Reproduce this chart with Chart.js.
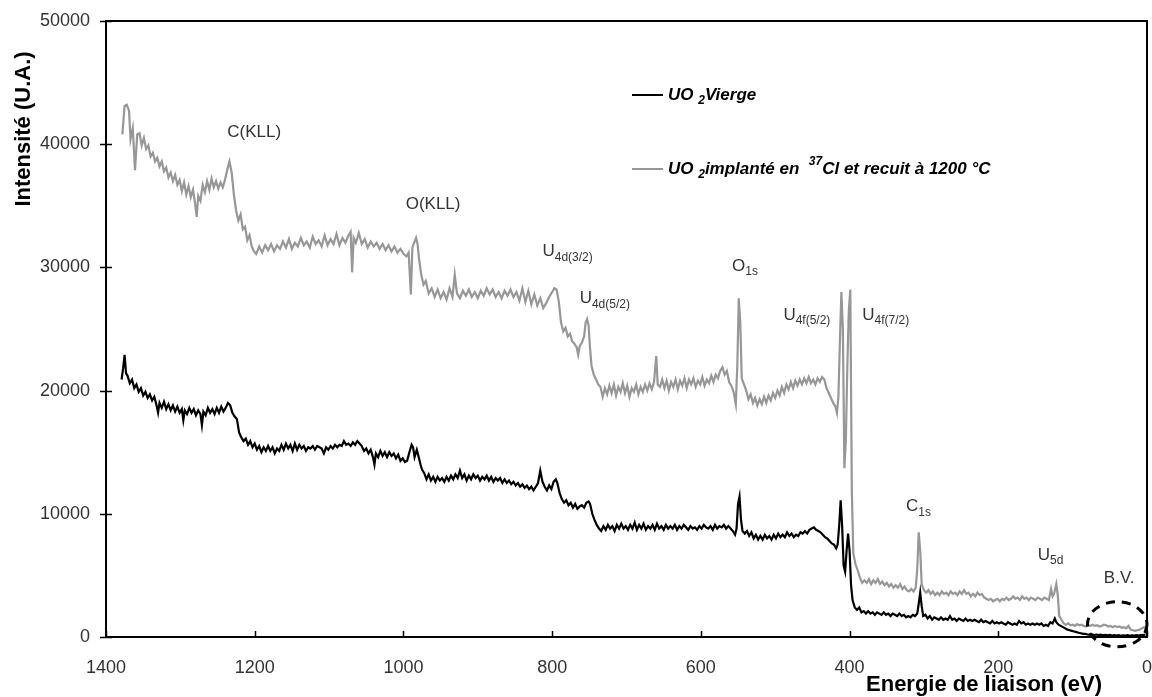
<!DOCTYPE html>
<html>
<head>
<meta charset="utf-8">
<script src="https://cdn.jsdelivr.net/npm/chart.js@4.4.1/dist/chart.umd.min.js"></script>
<style>
  html, body { margin: 0; padding: 0; background: #fff; }
  canvas { display: block; }
</style>
</head>
<body>
<canvas id="xps" width="1152" height="697"></canvas>
<script>
// Survey spectra, [energie (eV), intensite (U.A.)]
const vierge = [
  [1379,20900],[1377,21800],[1375,22900],[1373,21400],[1371,21200],[1368,20600],[1365,20900],[1362,20200],
  [1359,20500],[1356,19900],[1353,20200],[1350,19600],[1347,19900],[1344,19400],[1341,19700],[1338,19200],
  [1335,19500],[1332,18800],[1330,18200],[1328,19000],[1325,18600],[1322,19100],[1319,18500],[1316,18900],
  [1313,18400],[1310,18800],[1307,18300],[1304,18700],[1301,18200],[1298,18500],[1296,17600],[1294,18400],
  [1291,18100],[1288,18600],[1285,18200],[1282,18500],[1279,18000],[1276,18400],[1273,18100],[1271,17200],
  [1269,18300],[1266,18000],[1263,18600],[1260,18200],[1257,18500],[1254,18100],[1251,18600],[1248,18200],
  [1245,18700],[1242,18300],[1239,18600],[1236,19000],[1233,18800],[1230,18200],[1227,17900],[1224,17700],
  [1221,16600],[1218,16200],[1215,15900],[1212,16100],[1209,15600],[1206,15900],[1203,15400],[1200,15700],
  [1197,15200],[1194,15500],[1191,15000],[1188,15400],[1185,15100],[1182,15500],[1179,15100],[1176,15400],
  [1173,14900],[1170,15300],[1167,15100],[1164,15600],[1161,15200],[1158,15700],[1155,15300],[1152,15600],
  [1149,15100],[1146,15700],[1143,15200],[1140,15600],[1137,15300],[1134,15500],[1131,15100],[1128,15400],
  [1125,15300],[1122,15500],[1119,15200],[1116,15500],[1113,15400],[1110,15300],[1107,14900],[1104,15400],
  [1101,15200],[1098,15500],[1095,15300],[1092,15600],[1089,15400],[1086,15600],[1083,15500],[1080,15900],
  [1077,15600],[1074,15700],[1071,15500],[1068,15800],[1065,15600],[1062,15900],[1059,15700],[1056,15500],
  [1053,15100],[1050,15300],[1047,14900],[1044,15200],[1041,14600],[1039,14000],[1037,14900],[1034,14600],
  [1031,15100],[1028,14700],[1025,15000],[1022,14600],[1019,15000],[1016,14700],[1013,14900],[1010,14500],
  [1007,14800],[1004,14300],[1001,14500],[998,14200],[995,14300],[992,15000],[989,15600],[987,15400],
  [985,14600],[982,15200],[979,14500],[977,14000],[975,13600],[972,13300],[969,12800],[966,13200],
  [963,12700],[960,13000],[957,12600],[954,13000],[951,12700],[948,12900],[945,12600],[942,13000],
  [939,12700],[936,13100],[933,12800],[930,13200],[927,12900],[924,13500],[921,12900],[918,13200],
  [915,12700],[912,13100],[909,12800],[906,13200],[903,12900],[900,13100],[897,12700],[894,13000],
  [891,12800],[888,13100],[885,12700],[882,13000],[879,12600],[876,12900],[873,12700],[870,12900],
  [867,12500],[864,12800],[861,12500],[858,12700],[855,12400],[852,12600],[849,12300],[846,12500],
  [843,12200],[840,12400],[837,12100],[834,12300],[831,12000],[828,12200],[825,11900],[822,12200],
  [819,12500],[816,13500],[813,12600],[810,12200],[807,11900],[804,12300],[801,12000],[798,12600],
  [795,12800],[793,12500],[790,11700],[787,11200],[784,10900],[781,11100],[778,10700],[775,10900],
  [772,10500],[769,10800],[766,10400],[763,10600],[760,10700],[757,10500],[754,10900],[751,11000],
  [749,10800],[746,10000],[743,9500],[740,9100],[737,8800],[734,8600],[731,9000],[728,8700],
  [725,9100],[722,8800],[719,9000],[716,8600],[713,9100],[710,8800],[707,9200],[704,8800],
  [701,9000],[698,8700],[695,9100],[692,8800],[689,9300],[686,8700],[683,9100],[680,8800],
  [677,9200],[674,8700],[671,9000],[668,8800],[665,9100],[662,8700],[659,9200],[656,8800],
  [653,9000],[650,8700],[647,9100],[644,8800],[641,9000],[638,8800],[635,9100],[632,8700],
  [629,9000],[626,8800],[623,9100],[620,8900],[617,8700],[614,9000],[611,8800],[608,8900],
  [605,8700],[602,9000],[599,8800],[596,9100],[593,8900],[590,8800],[587,9000],[584,8700],
  [581,9100],[578,8800],[575,9000],[572,8900],[569,9100],[566,8800],[563,9000],[560,8800],
  [557,8600],[554,8300],[552,8800],[550,10800],[548,11400],[546,9500],[544,8600],[541,8400],
  [538,8600],[535,8200],[532,8500],[529,8000],[526,8300],[523,7900],[520,8200],[517,7900],
  [514,8300],[511,8000],[508,8200],[505,7900],[502,8300],[499,8000],[496,8400],[493,8100],
  [490,8300],[487,8100],[484,8500],[481,8200],[478,8400],[475,8100],[472,8300],[469,8200],
  [466,8500],[463,8400],[460,8600],[457,8400],[454,8700],[451,8800],[448,8900],[445,8700],
  [442,8600],[439,8500],[436,8300],[433,8100],[430,8000],[427,7800],[424,7600],[421,7500],
  [418,7200],[416,7500],[414,9000],[412,11100],[410,9000],[408,5800],[406,5300],[404,7000],
  [402,8400],[400,7000],[398,4200],[396,3000],[393,2400],[390,2200],[387,2400],[384,2000],
  [381,2100],[378,1900],[375,2100],[372,1900],[369,2000],[366,1800],[363,2000],[360,1900],
  [357,1800],[354,2000],[351,1800],[348,1900],[345,1700],[342,1900],[339,1800],[336,1700],
  [333,1900],[330,1700],[327,1800],[324,1600],[321,1700],[318,1600],[315,1800],[312,1700],
  [309,1900],[307,2700],[305,3600],[303,2500],[301,1700],[298,1800],[295,1500],[292,1700],
  [289,1400],[286,1600],[283,1500],[280,1400],[277,1600],[274,1400],[271,1500],[268,1400],
  [265,1700],[262,1400],[259,1500],[256,1300],[253,1500],[250,1400],[247,1300],[244,1500],
  [241,1300],[238,1400],[235,1300],[232,1400],[229,1300],[226,1200],[223,1400],[220,1200],
  [217,1300],[214,1200],[211,1100],[208,1300],[205,1100],[202,1200],[199,1100],[196,1200],
  [193,1100],[190,1000],[187,1200],[184,1100],[181,1000],[178,1100],[175,1000],[172,1300],
  [169,1100],[166,1200],[163,1000],[160,1100],[157,1000],[154,1100],[151,1000],[148,1100],
  [145,1000],[142,1100],[139,900],[136,1000],[133,900],[130,1200],[127,1100],[124,1500],
  [122,1200],[119,1000],[116,900],[113,800],[110,700],[107,600],[104,550],[101,500],
  [98,450],[95,400],[92,350],[89,300],[86,250],[83,250],[80,200],[77,180],
  [74,220],[71,160],[68,200],[65,150],[62,190],[59,140],[56,180],[53,130],
  [50,170],[47,120],[44,160],[41,110],[38,150],[35,100],[32,140],[29,110],
  [26,150],[23,100],[20,140],[17,110],[14,160],[11,120],[8,180],[5,150],[2,200]
];

const implante = [
  [1378,40800],[1375,43100],[1372,43200],[1369,42700],[1367,40400],[1364,41300],[1361,37900],[1358,40800],
  [1355,40900],[1352,39900],[1349,40500],[1346,39600],[1343,39900],[1340,39000],[1337,39300],[1334,38600],
  [1331,38900],[1328,38200],[1325,38600],[1322,37800],[1319,38100],[1316,37300],[1313,37700],[1310,37000],
  [1307,37500],[1304,36700],[1301,37100],[1298,36200],[1295,36900],[1292,35900],[1289,36600],[1286,35700],
  [1283,36300],[1280,35100],[1278,34100],[1276,35800],[1273,35400],[1270,36700],[1267,36100],[1264,37000],
  [1261,36300],[1258,37200],[1255,36500],[1252,37000],[1249,36400],[1246,36900],[1243,36500],[1240,37100],
  [1237,37900],[1234,38600],[1231,37700],[1228,35900],[1225,34600],[1222,33800],[1219,34300],[1216,33100],
  [1213,33300],[1210,32200],[1207,32600],[1204,31700],[1201,31300],[1198,31100],[1194,31700],[1190,31200],
  [1186,31800],[1182,31400],[1178,31900],[1174,31300],[1170,31800],[1166,31500],[1162,32100],[1158,31600],
  [1154,32300],[1150,31500],[1146,32000],[1142,31700],[1138,32400],[1134,31800],[1130,32100],[1126,31600],
  [1122,32500],[1118,31900],[1114,32200],[1110,31700],[1106,32600],[1102,31800],[1098,32300],[1094,31900],
  [1090,32700],[1086,31800],[1082,32400],[1078,32000],[1074,32600],[1071,32900],[1069,29600],[1067,32400],
  [1064,32000],[1060,32800],[1056,31900],[1052,32300],[1048,31600],[1044,32100],[1040,31700],[1036,32000],
  [1032,31500],[1028,31900],[1024,31400],[1020,31800],[1016,31300],[1012,31700],[1008,31200],[1004,31500],
  [1000,31100],[996,30900],[993,31200],[990,27800],[988,31600],[985,32100],[983,32400],[981,31900],
  [979,30700],[976,29400],[973,28600],[970,28900],[966,27900],[962,28300],[958,27600],[954,28200],
  [950,27500],[946,28000],[942,27400],[938,28300],[934,27600],[931,29400],[928,27900],[924,27500],
  [920,28100],[916,27700],[912,28200],[908,27600],[904,28000],[900,27500],[896,28100],[892,27700],
  [888,28300],[884,27800],[880,28200],[876,27600],[872,28000],[868,27500],[864,28100],[860,27700],
  [856,28200],[852,27600],[848,28000],[844,27300],[840,28300],[836,27200],[832,28100],[828,27000],
  [824,27800],[820,26900],[816,27500],[812,26700],[808,27100],[804,27600],[800,28000],[797,28300],
  [794,28200],[791,27200],[788,25500],[785,24800],[782,25100],[779,24400],[776,24600],[773,24000],
  [770,23800],[767,23500],[765,22900],[763,23600],[760,23900],[757,24400],[755,25500],[753,25800],
  [751,25300],[749,23400],[747,22000],[744,21300],[741,20900],[738,20500],[735,20300],[732,19500],
  [729,20200],[726,19700],[723,20400],[720,19800],[717,20500],[714,19600],[711,20300],[708,19900],
  [705,20600],[702,19800],[699,20400],[696,19500],[693,20200],[690,19900],[687,20500],[684,19700],
  [681,20300],[678,19900],[675,20500],[672,20000],[669,20600],[666,20100],[663,20700],[660,22800],
  [658,20500],[655,20300],[652,20900],[649,20200],[646,20800],[643,20000],[640,20700],[637,20300],
  [634,20900],[631,20100],[628,20800],[625,20400],[622,21000],[619,20200],[616,20900],[613,20500],
  [610,21000],[607,20300],[604,20800],[601,20500],[598,21100],[595,20400],[592,20900],[589,20600],
  [586,21200],[583,20700],[580,21300],[577,21000],[574,21600],[571,21900],[568,21300],[565,21600],
  [562,20700],[559,20400],[556,19900],[553,18900],[551,22000],[549,27500],[547,25500],[545,21000],
  [542,20500],[539,20000],[536,19300],[533,19700],[530,19000],[527,19400],[524,18800],[521,19300],
  [518,18900],[515,19500],[512,19000],[509,19600],[506,19200],[503,19800],[500,19400],[497,20000],
  [494,19600],[491,20300],[488,19800],[485,20500],[482,20100],[479,20700],[476,20200],[473,20800],
  [470,20400],[467,20900],[464,20500],[461,21000],[458,20600],[455,21100],[452,20600],[449,20900],
  [446,20500],[443,21000],[440,20700],[437,21100],[434,20900],[431,20200],[428,19800],[425,19400],
  [422,19000],[419,18700],[417,18200],[415,19500],[413,24000],[411,28000],[409,25000],[407,13700],
  [405,16000],[403,22000],[401,26500],[399,28200],[397,12000],[395,6800],[392,5900],[389,5400],
  [386,4800],[383,4400],[380,4600],[377,4400],[374,4700],[371,4300],[368,4600],[365,4400],
  [362,4700],[359,4300],[356,4500],[353,4200],[350,4400],[347,4100],[344,4300],[341,4000],
  [338,4200],[335,4000],[332,4300],[329,3900],[326,4100],[323,3800],[320,3700],[317,3900],
  [314,3700],[311,4000],[309,5500],[307,8500],[305,7000],[303,4300],[300,3800],[297,3600],
  [294,3800],[291,3500],[288,3700],[285,3400],[282,3600],[279,3400],[276,3700],[273,3500],
  [270,3600],[267,3400],[264,3700],[261,3500],[258,3600],[255,3400],[252,3700],[249,3500],
  [246,3800],[243,3500],[240,3600],[237,3300],[234,3500],[231,3300],[228,3600],[225,3400],
  [222,3500],[219,3200],[216,3100],[213,3000],[210,3100],[207,2900],[204,3000],[201,3100],
  [198,2900],[195,3100],[192,3000],[189,3200],[186,3000],[183,3100],[180,3300],[177,3100],
  [174,3200],[171,3000],[168,3300],[165,3100],[162,3200],[159,3000],[156,3200],[153,3100],
  [150,3000],[147,3200],[144,3100],[141,3000],[138,3200],[135,3100],[132,3000],[129,3900],
  [127,3300],[125,3500],[122,4300],[120,3400],[118,1700],[115,1400],[112,1100],[109,1000],
  [106,1100],[103,950],[100,1000],[97,900],[94,1050],[91,950],[88,1000],[85,900],
  [82,850],[79,950],[76,900],[73,1000],[70,900],[67,950],[64,850],[61,900],
  [58,1000],[55,950],[52,850],[49,900],[46,800],[43,900],[40,800],[37,850],
  [34,750],[31,800],[28,700],[25,900],[22,600],[19,550],[16,500],[13,550],
  [10,600],[7,700],[4,800],[1,600]
];

const energyTicks = [1400, 1200, 1000, 800, 600, 400, 200, 0];
const intensityTicks = [0, 10000, 20000, 30000, 40000, 50000];

// peak names: text, subscript, anchor (eV, U.A.) of the left/middle of the text
const peakLabels = [
  ['C(KLL)', '', 1237, 41000],
  ['O(KLL)', '', 997, 35100],
  ['U', '4d(3/2)', 813, 31300],
  ['U', '4d(5/2)', 763, 27500],
  ['O', '1s', 558, 30100],
  ['U', '4f(5/2)', 489, 26150],
  ['U', '4f(7/2)', 383, 26150],
  ['C', '1s', 324, 10600],
  ['U', '5d', 147, 6650],
  ['B.V.', '', 58, 4750]
];

// valence band marker: centre (eV, U.A.) and half axes (eV, U.A.)
const bvCircle = [40, 1030, 40, 1830];

const FONT = '"Liberation Sans", Arial, sans-serif';

function drawRich(ctx, parts, x, y) {
  // parts: [text, px size, baseline shift, weight/style]
  let cx = x;
  for (const [t, size, dy, style] of parts) {
    ctx.font = `${style || ''} ${size}px ${FONT}`;
    ctx.fillText(t, cx, y + dy);
    cx += ctx.measureText(t).width;
  }
}

const decor = {
  id: 'decor',
  afterDraw(chart) {
    const { ctx, chartArea: a, scales: { x, y } } = chart;
    ctx.save();

    // box and tick marks
    ctx.strokeStyle = '#000';
    ctx.lineWidth = 2;
    ctx.strokeRect(a.left, a.top, a.right - a.left, a.bottom - a.top);
    ctx.beginPath();
    for (const v of intensityTicks) {
      const py = Math.round(y.getPixelForValue(v)) + 0.5;
      ctx.moveTo(a.left - 6, py);
      ctx.lineTo(a.left + 6, py);
    }
    for (const v of energyTicks) {
      const px = Math.round(x.getPixelForValue(v)) + 0.5;
      ctx.moveTo(px, a.bottom);
      ctx.lineTo(px, a.bottom - 6);
    }
    ctx.lineWidth = 1.5;
    ctx.stroke();

    // dashed ellipse round the valence band
    const [ce, ci, re, ri] = bvCircle;
    const cx = x.getPixelForValue(ce), cy = y.getPixelForValue(ci);
    const rx = Math.abs(x.getPixelForValue(ce + re) - cx);
    const ry = Math.abs(y.getPixelForValue(ci + ri) - cy);
    ctx.beginPath();
    ctx.ellipse(cx, cy, rx, ry, 0, 0, Math.PI * 2);
    ctx.setLineDash([9, 7]);
    ctx.lineWidth = 3;
    ctx.stroke();
    ctx.setLineDash([]);

    // peak names
    ctx.fillStyle = '#333';
    ctx.textBaseline = 'middle';
    ctx.textAlign = 'left';
    for (const [main, sub, e, i] of peakLabels) {
      const px = x.getPixelForValue(e), py = y.getPixelForValue(i);
      const parts = [[main, 17, 0, '']];
      if (sub) parts.push([sub, 12, 6, '']);
      drawRich(ctx, parts, px, py);
    }

    // legend
    const lx = a.left + 526, ly1 = a.top + 74, ly2 = a.top + 148;
    ctx.lineWidth = 2;
    ctx.strokeStyle = '#000';
    ctx.beginPath(); ctx.moveTo(lx, ly1); ctx.lineTo(lx + 31, ly1); ctx.stroke();
    ctx.strokeStyle = '#979797';
    ctx.beginPath(); ctx.moveTo(lx, ly2); ctx.lineTo(lx + 31, ly2); ctx.stroke();
    ctx.fillStyle = '#000';
    const bi = 'italic bold';
    drawRich(ctx, [['UO ', 17, 0, bi], ['2', 12, 6, bi], ['Vierge', 17, 0, bi]], lx + 36, ly1);
    drawRich(ctx, [['UO ', 17, 0, bi], ['2', 12, 6, bi], ['implanté en  ', 17, 0, bi],
      ['37', 12, -7, bi], ['Cl et recuit à 1200 °C', 17, 0, bi]], lx + 36, ly2);

    // axis titles
    ctx.font = `bold 22px ${FONT}`;
    ctx.textAlign = 'center';
    ctx.fillText('Energie de liaison (eV)', a.right - 163, a.bottom + 48);
    ctx.translate(a.left - 82, a.top + 108);
    ctx.rotate(-Math.PI / 2);
    ctx.fillText('Intensité (U.A.)', 0, 0);

    ctx.restore();
  }
};

const toPoints = s => s.map(([e, i]) => ({ x: e, y: i }));
const noPad = s => { s.paddingLeft = 0; s.paddingRight = 0; s.paddingTop = 0; s.paddingBottom = 0; };

new Chart(document.getElementById('xps'), {
  type: 'line',
  data: {
    datasets: [
      { label: 'UO2 Vierge', data: toPoints(vierge), borderColor: '#000', borderWidth: 2.2,
        pointRadius: 0, tension: 0 },
      { label: 'UO2 implanté en 37Cl et recuit à 1200 °C', data: toPoints(implante),
        borderColor: '#979797', borderWidth: 2.2, pointRadius: 0, tension: 0 }
    ]
  },
  options: {
    responsive: false,
    animation: false,
    layout: { padding: { top: 21, right: 5, left: 0, bottom: 0 } },
    plugins: { legend: { display: false }, tooltip: { enabled: false } },
    scales: {
      x: {
        type: 'linear', reverse: true, min: 0, max: 1400,
        afterBuildTicks: s => { s.ticks = energyTicks.map(v => ({ value: v })); },
        afterFit: s => { s.height = 60; noPad(s); },
        grid: { display: false, drawTicks: false },
        border: { display: false },
        ticks: { color: '#333', padding: 20, maxRotation: 0, font: { family: FONT, size: 18 },
          callback: v => String(v) }
      },
      y: {
        min: 0, max: 50000,
        afterBuildTicks: s => { s.ticks = intensityTicks.map(v => ({ value: v })); },
        afterFit: s => { s.width = 106; noPad(s); },
        grid: { display: false, drawTicks: false },
        border: { display: false },
        ticks: { color: '#333', padding: 16, font: { family: FONT, size: 18 },
          callback: v => String(v) }
      }
    }
  },
  plugins: [decor]
});
</script>
</body>
</html>
